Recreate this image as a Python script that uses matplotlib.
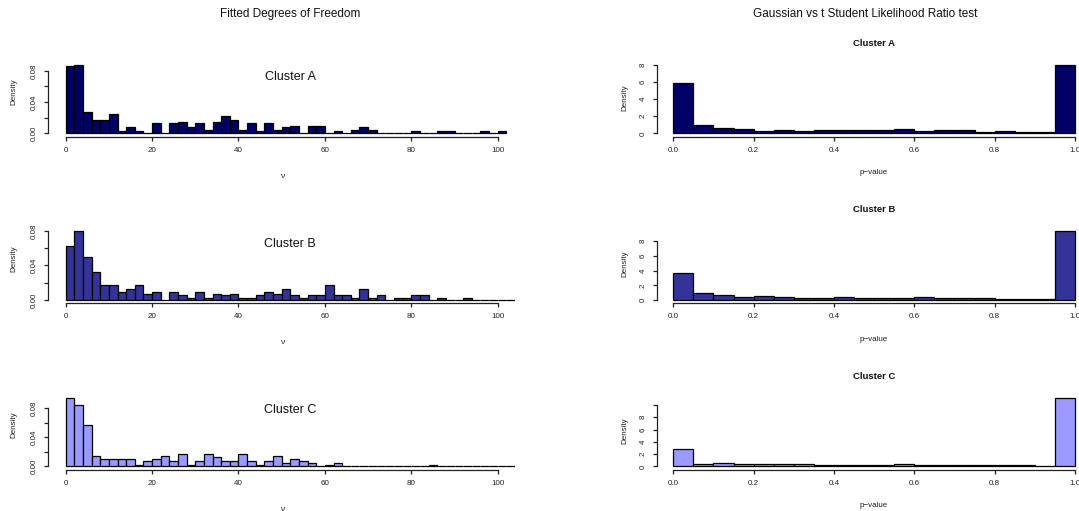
import numpy as np
import matplotlib
matplotlib.use("Agg")
import matplotlib.pyplot as plt

plt.rcParams['font.family'] = ['Liberation Sans', 'DejaVu Sans']

W, H, DPI = 1079, 511, 100

# ---------------- data ----------------
clusters = ["Cluster A", "Cluster B", "Cluster C"]
colors = ["#000066", "#333399", "#9999FF"]

df_bin_width = 2
df_density_A = [0.086, 0.088, 0.028, 0.0175, 0.0175, 0.025, 0.003, 0.0077, 0.003, 0.0,
                0.0128, 0.0, 0.0128, 0.015, 0.0077, 0.0128, 0.005, 0.015, 0.0225, 0.0175,
                0.005, 0.0128, 0.003, 0.0128, 0.005, 0.0077, 0.010, 0.0, 0.010, 0.010,
                0.0, 0.003, 0.0, 0.005, 0.0077, 0.005, 0.0, 0.0, 0.0, 0.0,
                0.003, 0.0, 0.0, 0.003, 0.003, 0.0, 0.0, 0.0, 0.003, 0.0, 0.003]
df_density_B = [0.0625, 0.080, 0.050, 0.0324, 0.0178, 0.0178, 0.0097, 0.0124, 0.0178, 0.0073,
                0.0097, 0.0, 0.0097, 0.0054, 0.0027, 0.0097, 0.0027, 0.0073, 0.0054, 0.0073,
                0.0027, 0.0027, 0.0054, 0.0097, 0.0073, 0.0124, 0.0054, 0.0027, 0.0054, 0.0054,
                0.0178, 0.0054, 0.0054, 0.0027, 0.0124, 0.0027, 0.0054, 0.0, 0.0027, 0.0027,
                0.0054, 0.0054, 0.0, 0.0027, 0.0, 0.0, 0.0027, 0.0, 0.0, 0.0,
                0.0, 0.0]
df_density_C = [0.095, 0.085, 0.0574, 0.0148, 0.0097, 0.0097, 0.0097, 0.0097, 0.0023, 0.0074,
                0.0097, 0.0148, 0.0074, 0.0176, 0.0023, 0.0074, 0.0176, 0.0125, 0.0074, 0.0074,
                0.0176, 0.0074, 0.0023, 0.0074, 0.0148, 0.0046, 0.0097, 0.0074, 0.0046, 0.0,
                0.0023, 0.0046, 0.0, 0.0, 0.0, 0.0, 0.0, 0.0, 0.0, 0.0,
                0.0, 0.0, 0.0023, 0.0, 0.0, 0.0, 0.0, 0.0, 0.0, 0.0,
                0.0, 0.0]

pv_bin_width = 0.05
pv_density_A = [5.8, 0.96, 0.69, 0.5, 0.31, 0.46, 0.27, 0.35, 0.35, 0.35,
                0.38, 0.5, 0.27, 0.38, 0.38, 0.15, 0.27, 0.15, 0.19, 8.0]
pv_density_B = [3.66, 0.95, 0.68, 0.45, 0.5, 0.41, 0.32, 0.32, 0.45, 0.27,
                0.32, 0.27, 0.45, 0.32, 0.23, 0.32, 0.18, 0.14, 0.18, 9.37]
pv_density_C = [2.81, 0.43, 0.59, 0.38, 0.43, 0.43, 0.43, 0.27, 0.27, 0.27,
                0.27, 0.43, 0.27, 0.27, 0.27, 0.27, 0.27, 0.27, 0.11, 11.2]

df_ticks = [0, 20, 40, 60, 80, 100]
df_yticks = [0.0, 0.02, 0.04, 0.06, 0.08]
df_yticklabels = ["0.00", "", "0.04", "", "0.08"]
pv_ticks = [0.0, 0.2, 0.4, 0.6, 0.8, 1.0]
pv_yticks = [[0, 2, 4, 6, 8], [0, 2, 4, 6, 8], [0, 2, 4, 6, 8, 10]]
pv_yticklabels = [["0", "2", "4", "6", "8"], ["0", "2", "4", "6", "8"],
                  ["0", "2", "4", "6", "8", ""]]

df_data = [df_density_A, df_density_B, df_density_C]
pv_data = [pv_density_A, pv_density_B, pv_density_C]

# ---------------- layout (pixels) ----------------
fig = plt.figure(figsize=(W / DPI, H / DPI), dpi=DPI)

row_bottoms = [136.8, 303.3, 469.8]
panel_h = 89.4
left_x = (48.4, 515.0)
right_x = (657.2, 1091.0)
LAB = 5.8


def add_ax(x0, x1, ybot):
    return fig.add_axes([x0 / W, 1 - ybot / H, (x1 - x0) / W, panel_h / H])


def style(ax, yticks, yticklabels, xticks, xticklabels):
    for s in ("top", "right"):
        ax.spines[s].set_visible(False)
    ax.spines["left"].set_bounds(yticks[0], yticks[-1])
    ax.spines["bottom"].set_bounds(xticks[0], xticks[-1])
    for s in ("left", "bottom"):
        ax.spines[s].set_linewidth(0.9)
        ax.spines[s].set_color("#222222")
    ax.set_yticks(yticks)
    ax.set_yticklabels(yticklabels, rotation=90, va="center")
    ax.set_xticks(xticks)
    ax.set_xticklabels(xticklabels)
    ax.tick_params(axis="both", length=3.2, width=0.9, color="#222222",
                   labelsize=LAB, labelcolor="#222222")
    ax.tick_params(axis="x", pad=4.0)
    ax.tick_params(axis="y", pad=4.6)
    ax.patch.set_visible(False)


for i in range(3):
    # left: fitted degrees of freedom
    ax = add_ax(left_x[0], left_x[1], row_bottoms[i])
    dens = df_data[i]
    edges = np.arange(len(dens)) * df_bin_width
    ax.bar(edges, dens, width=df_bin_width, align="edge", color=colors[i],
           edgecolor="black", linewidth=0.9)
    m = max(dens)
    ax.set_xlim(-4, 104)
    ax.set_ylim(-0.048 * m, 1.248 * m)
    style(ax, df_yticks, df_yticklabels, df_ticks, [str(t) for t in df_ticks])
    ax.text(52, 0.665, clusters[i], transform=ax.get_xaxis_transform(),
            ha="center", va="center", fontsize=9, color="#111111")
    ax.set_ylabel("Density", fontsize=LAB, color="#222222")
    ax.yaxis.set_label_coords(-0.074, 0.5)
    ax.yaxis.label.set_va("center")
    ax.set_xlabel("\u03bd", fontsize=6, color="#222222")
    ax.xaxis.set_label_coords(0.5, -0.44)
    ax.xaxis.label.set_va("center")

    # right: likelihood ratio test p-values
    ax = add_ax(right_x[0], right_x[1], row_bottoms[i])
    dens = pv_data[i]
    edges = np.arange(len(dens)) * pv_bin_width
    ax.bar(edges, dens, width=pv_bin_width, align="edge", color=colors[i],
           edgecolor="black", linewidth=0.9)
    m = max(dens)
    ax.set_xlim(-0.04, 1.04)
    ax.set_ylim(-0.048 * m, 1.248 * m)
    style(ax, pv_yticks[i], pv_yticklabels[i], pv_ticks, ["%.1f" % t for t in pv_ticks])
    ax.text(0.5, 1.046, clusters[i], transform=ax.transAxes, ha="center", va="center",
            fontsize=6.8, fontweight="bold", color="#111111")
    ax.set_ylabel("Density", fontsize=LAB, color="#222222")
    ax.yaxis.set_label_coords(-0.074, 0.44)
    ax.yaxis.label.set_va("center")
    ax.set_xlabel("p\u2212value", fontsize=LAB, color="#222222")
    ax.xaxis.set_label_coords(0.5, -0.40)
    ax.xaxis.label.set_va("center")

fig.text(290 / W, 1 - 14 / H, "Fitted Degrees of Freedom", ha="center", va="center",
         fontsize=8.5, color="#111111")
fig.text(865 / W, 1 - 14 / H, "Gaussian vs t Student Likelihood Ratio test", ha="center",
         va="center", fontsize=8.5, color="#111111")

fig.savefig("out.png", dpi=DPI)
